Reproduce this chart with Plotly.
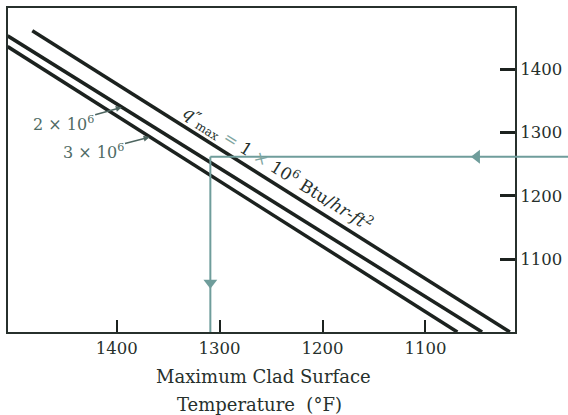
import plotly.graph_objects as go

# ---- data ----
x_ticks = [1400, 1300, 1200, 1100]
y_ticks = [1100, 1200, 1300, 1400]
x_range = [1505.6, 1013]
y_range = [985, 1497]

# heat-flux lines: (temperature, power) end points
line_1e6_temp = [1482, 1018]
line_1e6_power = [1461, 985]
line_2e6_temp = [1506, 1045]
line_2e6_power = [1453, 985]
line_3e6_temp = [1506, 1069]
line_3e6_power = [1436, 985]

# guide (example reading)
guide_temp = 1309
guide_power = 1262
arrow_h_temp = 1050
arrow_v_power = 1063

# label anchors
q_label_pos = (1244, 1244)
lab2_text_pos = (1452, 1314)
lab2_tip = (1395, 1340)
lab3_text_pos = (1423, 1270)
lab3_tip = (1368, 1293)

DARK = "#1c221f"
TEXT = "#26302c"
TEAL = "#6f9d9b"
FONT = "DejaVu Serif"

fig = go.Figure()

for xs, ys in [(line_1e6_temp, line_1e6_power),
               (line_2e6_temp, line_2e6_power),
               (line_3e6_temp, line_3e6_power)]:
    fig.add_trace(go.Scatter(x=xs, y=ys, mode="lines",
                             line=dict(color=DARK, width=3.5),
                             hoverinfo="skip", showlegend=False))

# guide lines
fig.add_trace(go.Scatter(x=[guide_temp, x_range[1]], y=[guide_power, guide_power],
                         mode="lines", line=dict(color=TEAL, width=2),
                         showlegend=False, hoverinfo="skip"))
fig.add_trace(go.Scatter(x=[guide_temp, guide_temp], y=[guide_power, y_range[0]],
                         mode="lines", line=dict(color=TEAL, width=2),
                         showlegend=False, hoverinfo="skip"))
# extension of horizontal guide beyond the frame
fig.add_shape(type="line", xref="paper", yref="y", x0=1, x1=1.15,
              y0=guide_power, y1=guide_power, line=dict(color=TEAL, width=2))
# arrow heads
fig.add_trace(go.Scatter(x=[arrow_h_temp], y=[guide_power], mode="markers",
                         marker=dict(symbol="triangle-left", size=12, color=TEAL),
                         cliponaxis=False, showlegend=False, hoverinfo="skip"))
fig.add_trace(go.Scatter(x=[guide_temp], y=[arrow_v_power], mode="markers",
                         marker=dict(symbol="triangle-down", size=12, color=TEAL),
                         cliponaxis=False, showlegend=False, hoverinfo="skip"))

annotations = [
    dict(x=q_label_pos[0], y=q_label_pos[1], xref="x", yref="y",
         text=("<i>q</i>″<sub>max</sub> <span style='color:#7fa5a0'>=</span> 1 "
               "<span style='color:#7fa5a0'>×</span> 10<sup>6</sup> Btu/<i>hr-ft</i><sup>2</sup>"),
         textangle=32, showarrow=False, font=dict(family=FONT, size=17, color=TEXT)),
    dict(x=lab2_tip[0], y=lab2_tip[1], ax=lab2_text_pos[0], ay=lab2_text_pos[1],
         xref="x", yref="y", axref="x", ayref="y",
         text="2 × 10<sup>6</sup>", showarrow=True, arrowhead=2, arrowsize=0.8,
         arrowwidth=1.5, arrowcolor="#4d6560",
         font=dict(family=FONT, size=16, color="#4f6b65")),
    dict(x=lab3_tip[0], y=lab3_tip[1], ax=lab3_text_pos[0], ay=lab3_text_pos[1],
         xref="x", yref="y", axref="x", ayref="y",
         text="3 × 10<sup>6</sup>", showarrow=True, arrowhead=2, arrowsize=0.8,
         arrowwidth=1.5, arrowcolor="#4d6560",
         font=dict(family=FONT, size=16, color="#4f6b65")),
    dict(x=0.503, y=-0.138, xref="paper", yref="paper", showarrow=False,
         xanchor="center", yanchor="middle",
         text="Maximum Clad Surface", font=dict(family=FONT, size=18, color=TEXT)),
    dict(x=0.497, y=-0.224, xref="paper", yref="paper", showarrow=False,
         xanchor="center", yanchor="middle",
         text="Temperature  (°F)", font=dict(family=FONT, size=18, color=TEXT)),
]

fig.update_layout(
    width=568, height=415,
    margin=dict(l=7, r=50, t=6, b=83),
    paper_bgcolor="white", plot_bgcolor="white",
    showlegend=False,
    annotations=annotations,
    xaxis=dict(range=x_range, tickvals=x_ticks, ticktext=[str(v) for v in x_ticks],
               ticks="inside", ticklen=12, tickwidth=2, tickcolor=DARK,
               showline=True, linewidth=2, linecolor="#27302c", mirror=True,
               showgrid=False, zeroline=False,
               tickfont=dict(family=FONT, size=16.5, color=TEXT)),
    yaxis=dict(range=y_range, tickvals=y_ticks, ticktext=[str(v) for v in y_ticks],
               side="right", ticks="inside", ticklen=15, tickwidth=2.5, tickcolor=DARK,
               showline=True, linewidth=2, linecolor="#27302c", mirror=True,
               showgrid=False, zeroline=False,
               tickfont=dict(family=FONT, size=16.5, color=TEXT)),
)

fig.write_html("out.html")
